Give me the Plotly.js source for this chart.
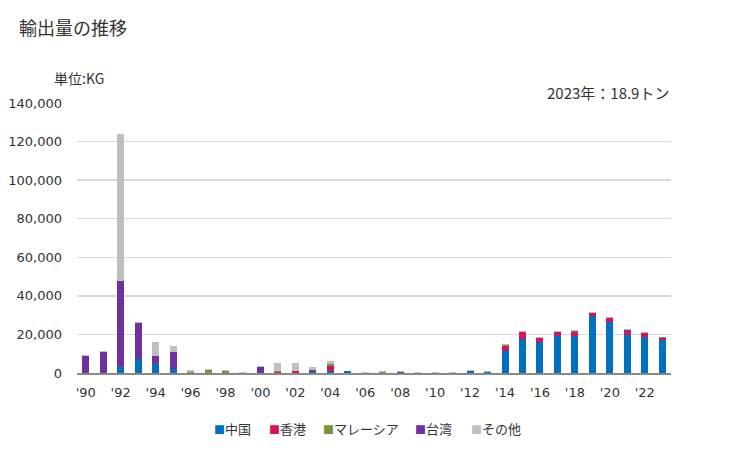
<!DOCTYPE html>
<html><head><meta charset="utf-8">
<script src="https://cdn.plot.ly/plotly-3.0.1.min.js"></script>
<style>html,body{margin:0;padding:0;background:#fff}#chart{width:729px;height:450px}</style>
</head><body><div id="chart"></div>
<script>
const years = [1990,1991,1992,1993,1994,1995,1996,1997,1998,1999,2000,2001,2002,2003,2004,2005,2006,2007,2008,2009,2010,2011,2012,2013,2014,2015,2016,2017,2018,2019,2020,2021,2022,2023];
const tickVals = [1990,1992,1994,1996,1998,2000,2002,2004,2006,2008,2010,2012,2014,2016,2018,2020,2022];
const tickText = ["'90","'92","'94","'96","'98","'00","'02","'04","'06","'08","'10","'12","'14","'16","'18","'20","'22"];
const china    = [0,0,3300,7400,5100,1900,0,0,0,0,0,0,0,1000,1000,900,0,0,0,0,0,0,900,700,11500,17700,16300,19400,19400,29700,26600,19800,18700,17200];
const hongkong = [0,0,0,0,700,0,0,0,0,0,0,700,1200,300,2700,0,0,0,0,0,0,0,300,0,2600,3600,1900,1400,1900,1400,1900,2200,2100,1000];
const malaysia = [0,0,0,0,0,300,700,1700,1200,0,0,300,0,500,1000,0,0,700,0,0,0,0,0,0,500,0,0,0,500,0,0,0,0,300];
const taiwan   = [8900,11000,44200,18500,3100,8700,0,0,0,0,3300,0,0,0,0,0,0,0,700,0,0,0,0,0,0,0,0,500,0,0,0,500,0,0];
const others   = [500,500,76400,500,7200,3100,1000,500,500,700,500,4300,4100,1400,1500,300,700,500,500,700,700,700,500,500,500,500,500,500,500,500,500,300,500,400];
const names = ["中国","香港","マレーシア","台湾","その他"];
const colors = ["#0070C0","#D5145A","#76923C","#7030A0","#BFBFBF"];
const series = [china,hongkong,malaysia,taiwan,others];
const font = "'Noto Sans CJK JP', 'Noto Sans', sans-serif";
const traces = series.map((s,i)=>({type:'bar',x:years,y:s,name:names[i],marker:{color:colors[i]},hoverinfo:'skip',showlegend:false}));
const L = 77, W = 594;
const legendX = [212, 267, 321, 413, 469];
const legendAnn = names.map((n,i)=>({
  text:'<span style="color:'+colors[i]+';font-size:11px">■</span>'+n,
  xref:'paper',yref:'paper',x:(legendX[i]-L)/W,y:0,yshift:-55,xanchor:'left',yanchor:'middle',showarrow:false,
  font:{family:font,size:13,color:'#333'}
}));
const layout = {
  width:729,height:450,barmode:'stack',bargap:0.6,
  margin:{l:77,r:58,t:103,b:77},
  paper_bgcolor:'#fff',plot_bgcolor:'#fff',
  showlegend:false,
  xaxis:{tickmode:'array',tickvals:tickVals,ticktext:tickText,range:[1989.5,2023.5],showgrid:false,zeroline:false,showline:true,linecolor:'#898989',linewidth:1.5,ticks:'',ticklabelstandoff:7,tickfont:{family:'DejaVu Sans',size:13,color:'#333'},fixedrange:true},
  yaxis:{range:[0,140000],tickvals:[0,20000,40000,60000,80000,100000,120000,140000],ticktext:['0','20,000','40,000','60,000','80,000','100,000','120,000','140,000'],showgrid:true,gridcolor:'#D9D9D9',gridwidth:1.5,zeroline:false,showline:false,ticks:'',ticklen:0,ticklabelstandoff:14,tickfont:{family:'DejaVu Sans',size:13,color:'#333'},fixedrange:true},
  annotations:[
    {text:'輸出量の推移',xref:'paper',yref:'paper',x:0,xshift:-60,y:1,yshift:76,xanchor:'left',yanchor:'middle',showarrow:false,font:{family:font,size:18,color:'#333'}},
    {text:'単位:KG',xref:'paper',yref:'paper',x:0,xshift:-25,y:1,yshift:25,xanchor:'left',yanchor:'middle',showarrow:false,font:{family:font,size:14,color:'#333'}},
    {text:'2023年：18.9トン',xref:'paper',yref:'paper',x:1,y:1,yshift:11,xanchor:'right',yanchor:'middle',showarrow:false,font:{family:font,size:15,color:'#333'}}
  ].concat(legendAnn)
};
Plotly.newPlot('chart',traces,layout,{displayModeBar:false,staticPlot:true});
</script></body></html>
